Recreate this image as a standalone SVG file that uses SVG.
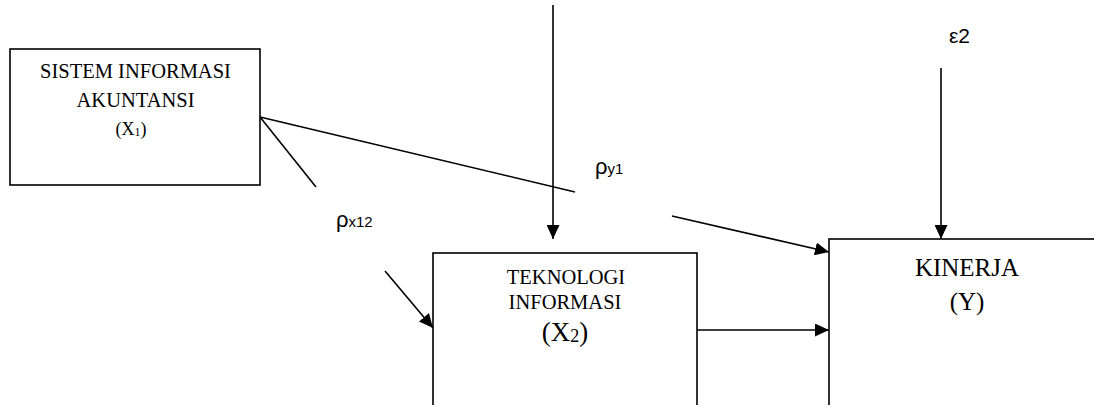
<svg xmlns="http://www.w3.org/2000/svg" width="1094" height="405" viewBox="0 0 1094 405">
<style>
.box{fill:#fff;stroke:#000;stroke-width:1.6}
.ln{fill:none;stroke:#000;stroke-width:1.6}
.arr{marker-end:url(#ah)}
.t{font-family:"Liberation Serif","Times New Roman",serif;fill:#000;text-anchor:middle}
.s{font-family:"Liberation Sans",Arial,sans-serif;fill:#000}
</style>
<defs>
<marker id="ah" markerUnits="userSpaceOnUse" markerWidth="15" markerHeight="13" refX="14" refY="6.5" orient="auto">
<path d="M0,0 L14,6.5 L0,13 Z" fill="#000"/>
</marker>
</defs>
<rect width="1094" height="405" fill="#fff"/>
<g id="connectors">
<line class="ln arr" x1="553" y1="5" x2="553" y2="239"/>
<line class="ln arr" x1="941" y1="68" x2="941" y2="239"/>
<line class="ln" x1="260" y1="117" x2="575" y2="192"/>
<line class="ln arr" x1="672" y1="216" x2="829" y2="252"/>
<line class="ln" x1="260" y1="117" x2="316" y2="187"/>
<line class="ln arr" x1="385" y1="271" x2="433" y2="328"/>
<line class="ln arr" x1="697" y1="330" x2="829" y2="330"/>
</g>
<g id="node-x1">
<rect class="box" x="10" y="49" width="250" height="136"/>
<text class="t" x="135.5" y="78" font-size="20.5">SISTEM INFORMASI</text>
<text class="t" x="135.5" y="107" font-size="20.5">AKUNTANSI</text>
<text class="t" x="131" y="135" font-size="18">(X<tspan font-size="12" dy="1">1</tspan><tspan dy="-1">)</tspan></text>
</g>
<g id="node-x2">
<rect class="box" x="433" y="253" width="264" height="170"/>
<text class="t" x="566" y="284" font-size="20.5">TEKNOLOGI</text>
<text class="t" x="565" y="308.5" font-size="20.5">INFORMASI</text>
<text class="t" x="565" y="341" font-size="27">(X<tspan font-size="18" dy="1">2</tspan><tspan dy="-1">)</tspan></text>
</g>
<g id="node-y">
<rect class="box" x="829" y="239" width="280" height="190"/>
<text class="t" x="967" y="275.5" font-size="25">KINERJA</text>
<text class="t" x="967" y="310" font-size="25">(Y)</text>
</g>
<g id="labels">
<text class="s" x="949" y="43" font-size="21">ε2</text>
<text class="s" x="595" y="174" font-size="22">ρ<tspan font-size="15">y1</tspan></text>
<text class="s" x="336" y="227" font-size="22">ρ<tspan font-size="15">x12</tspan></text>
</g>
</svg>
